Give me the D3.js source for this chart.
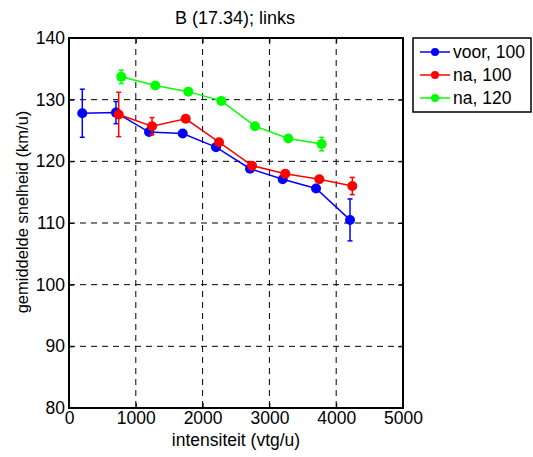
<!DOCTYPE html>
<html>
<head>
<meta charset="utf-8">
<script src="https://cdn.jsdelivr.net/npm/d3@7"></script>
<style>
  body { margin: 0; background: #fff; }
  svg text { font-family: "Liberation Sans", Arial, sans-serif; fill: #000; }
</style>
</head>
<body>
<svg id="chart" width="533" height="457"></svg>
<script>
// data
const voorX = [199, 703, 1198, 1702, 2200, 2710, 3199, 3698, 4207];
const voorY = [127.8, 127.9, 124.75, 124.5, 122.3, 118.8, 117.1, 115.6, 110.5];
const voorErr = [3.9, 1.8, 0.5, 0.3, 0.4, 0.3, 0.3, 0.5, 3.4];

const na100X = [744, 1243, 1747, 2246, 2740, 3238, 3747, 4241];
const na100Y = [127.6, 125.7, 126.9, 123.1, 119.3, 118.0, 117.1, 116.0];
const na100Err = [3.6, 1.4, 0.5, 0.4, 0.3, 0.3, 0.3, 1.4];

const na120X = [783, 1292, 1786, 2280, 2784, 3283, 3782];
const na120Y = [133.7, 132.3, 131.3, 129.8, 125.7, 123.7, 122.8];
const na120Err = [1.1, 0.3, 0.3, 0.4, 0.3, 0.3, 1.1];

const xTicks = [0, 1000, 2000, 3000, 4000, 5000];
const yTicks = [80, 90, 100, 110, 120, 130, 140];

const series = [
    {name: "voor, 100", color: "#0000ff", x: voorX, y: voorY, err: voorErr},
    {name: "na, 100", color: "#ff0000", x: na100X, y: na100Y, err: na100Err},
    {name: "na, 120", color: "#00ff00", x: na120X, y: na120Y, err: na120Err}
];

const plot = {left: 69, right: 403, top: 38, bottom: 408};
const svg = d3.select("svg#chart");

const x = d3.scaleLinear().domain([0, 5000]).range([plot.left, plot.right]);
const y = d3.scaleLinear().domain([80, 140]).range([plot.bottom, plot.top]);

// dashed grid
const grid = svg.append("g").attr("class", "grid");
grid.selectAll("line.gx")
    .data(xTicks.slice(1, -1))
    .enter().append("line")
    .attr("x1", d => x(d)).attr("x2", d => x(d))
    .attr("y1", plot.top).attr("y2", plot.bottom)
    .attr("stroke", "#000").attr("stroke-width", 1)
    .attr("stroke-dasharray", "6,5");
grid.selectAll("line.gy")
    .data(yTicks.slice(1, -1))
    .enter().append("line")
    .attr("y1", d => y(d)).attr("y2", d => y(d))
    .attr("x1", plot.left).attr("x2", plot.right)
    .attr("stroke", "#000").attr("stroke-width", 1)
    .attr("stroke-dasharray", "6,5");

// axes: ticks point inward, labels outside
const fontSize = 17.5;
const axisBottom = d3.axisBottom(x).tickValues(xTicks).tickSize(-5).tickPadding(4).tickFormat(d3.format("d"));
const axisLeft = d3.axisLeft(y).tickValues(yTicks).tickSize(-5).tickPadding(4).tickFormat(d3.format("d"));
const axisTop = d3.axisTop(x).tickValues(xTicks).tickSize(-5).tickFormat("");
const axisRight = d3.axisRight(y).tickValues(yTicks).tickSize(-5).tickFormat("");

const styleAxis = (g) => {
    g.select(".domain").remove();
    g.selectAll(".tick line").attr("stroke", "#000").attr("stroke-width", 1);
    g.selectAll(".tick text").attr("font-size", fontSize).attr("fill", "#000")
        .style("font-family", "'Liberation Sans', Arial, sans-serif");
};

svg.append("g").attr("transform", `translate(0,${plot.bottom})`).call(axisBottom).call(styleAxis);
svg.append("g").attr("transform", `translate(${plot.left},0)`).call(axisLeft).call(styleAxis);
svg.append("g").attr("transform", `translate(0,${plot.top})`).call(axisTop).call(styleAxis);
svg.append("g").attr("transform", `translate(${plot.right},0)`).call(axisRight).call(styleAxis);

// box
svg.append("rect")
    .attr("x", plot.left).attr("y", plot.top)
    .attr("width", plot.right - plot.left).attr("height", plot.bottom - plot.top)
    .attr("fill", "none").attr("stroke", "#000").attr("stroke-width", 2);

// series
const line = d3.line().x(d => x(d.x)).y(d => y(d.y));
series.forEach(s => {
    const pts = s.x.map((v, i) => ({x: v, y: s.y[i], e: s.err[i]}));
    const g = svg.append("g").attr("class", "series");

    g.selectAll("line.err").data(pts).enter().append("line")
        .attr("x1", d => x(d.x)).attr("x2", d => x(d.x))
        .attr("y1", d => y(d.y - d.e)).attr("y2", d => y(d.y + d.e))
        .attr("stroke", s.color).attr("stroke-width", 1.5);
    [-1, 1].forEach(sign => {
        g.selectAll(null).data(pts).enter().append("line")
            .attr("x1", d => x(d.x) - 2.5).attr("x2", d => x(d.x) + 2.5)
            .attr("y1", d => y(d.y + sign * d.e)).attr("y2", d => y(d.y + sign * d.e))
            .attr("stroke", s.color).attr("stroke-width", 1.5);
    });

    g.append("path").datum(pts)
        .attr("d", line).attr("fill", "none")
        .attr("stroke", s.color).attr("stroke-width", 1.5);

    g.selectAll("circle").data(pts).enter().append("circle")
        .attr("cx", d => x(d.x)).attr("cy", d => y(d.y)).attr("r", 5)
        .attr("fill", s.color);
});

// title and axis labels
svg.append("text").attr("x", 235).attr("y", 24)
    .attr("text-anchor", "middle").attr("font-size", 18)
    .text("B (17.34); links");
svg.append("text").attr("x", (plot.left + plot.right) / 2).attr("y", 446)
    .attr("text-anchor", "middle").attr("font-size", fontSize)
    .text("intensiteit (vtg/u)");
svg.append("text")
    .attr("transform", `translate(28,${(plot.top + plot.bottom) / 2 - 11}) rotate(-90)`)
    .attr("text-anchor", "middle").attr("font-size", 16.5)
    .text("gemiddelde snelheid (km/u)");

// legend
const legend = svg.append("g").attr("transform", "translate(413,38)");
legend.append("rect").attr("width", 118).attr("height", 74)
    .attr("fill", "#fff").attr("stroke", "#000").attr("stroke-width", 1.5);
series.forEach((s, i) => {
    const ly = 14 + i * 23;
    legend.append("line").attr("x1", 7).attr("x2", 37).attr("y1", ly).attr("y2", ly)
        .attr("stroke", s.color).attr("stroke-width", 1.5);
    legend.append("circle").attr("cx", 22).attr("cy", ly).attr("r", 4).attr("fill", s.color);
    legend.append("text").attr("x", 40).attr("y", ly + 6).attr("font-size", fontSize).text(s.name);
});
</script>
</body>
</html>
